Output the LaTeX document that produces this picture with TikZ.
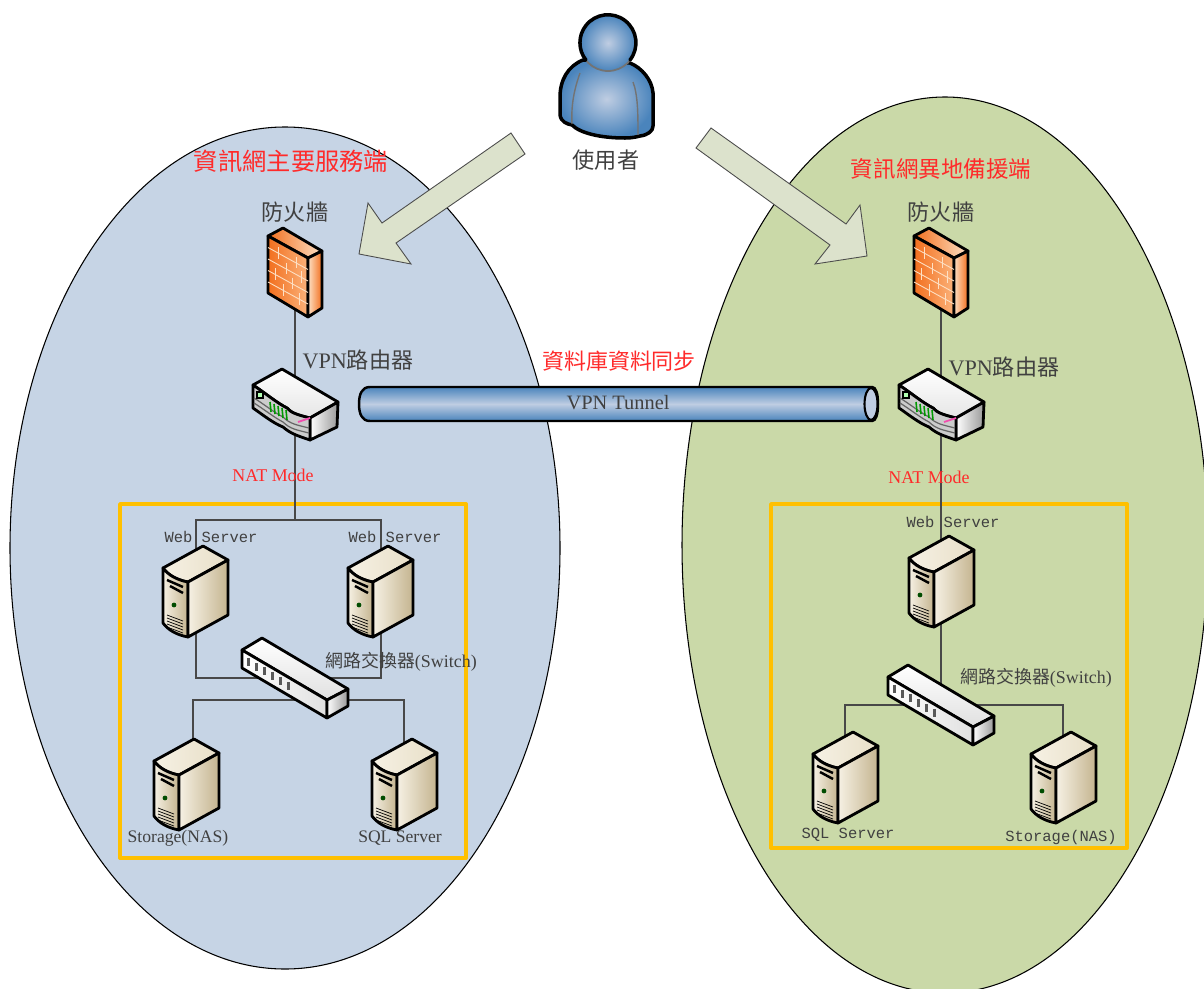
\documentclass[tikz,border=0pt]{standalone}
\usepackage{fontspec}
\setmainfont{Liberation Serif}
\setmonofont{Liberation Mono}
\newfontfamily\cjk{Noto Sans CJK TC}
\definecolor{sitea}{HTML}{C6D4E5}
\definecolor{siteb}{HTML}{CAD9A8}
\definecolor{boxline}{HTML}{FFC000}
\definecolor{linkgray}{HTML}{484848}
\definecolor{labelgray}{HTML}{404040}
\definecolor{labelred}{HTML}{FF2A2A}
\definecolor{arrowfill}{HTML}{DCE2CC}
\definecolor{steel}{HTML}{4A84BC}
\definecolor{steellight}{HTML}{BFCDE2}
\definecolor{creama}{HTML}{F6F1E4}
\definecolor{creamb}{HTML}{E8DFC8}
\definecolor{creamc}{HTML}{C4B48F}
\definecolor{bricka}{HTML}{F26F1E}
\definecolor{brickb}{HTML}{FBB27A}
\definecolor{brickc}{HTML}{FDE0C4}
\tikzset{
	point/.style={inner sep=0pt,minimum size=0pt},
	link/.style={linkgray,line width=0.5pt},
	site/.style={draw=black,line width=0.3pt},
	zone/.style={draw=boxline,line width=1.1pt,line join=round},
	bigarrow/.style={draw=black!70,line width=0.25pt,fill=arrowfill},
	outline/.style={draw=black,line width=0.8pt,line join=round},
	lab/.style={labelgray,inner sep=0pt},
	redlab/.style={labelred,inner sep=0pt},
	pics/server/.style={code={
		\shadedraw[outline,left color=creama,right color=creamb] (-32,-23) -- (8,-45) -- (33,-31) -- (-7,-9) .. controls (-18,-11) and (-27,-16) .. cycle;
		\shadedraw[outline,left color=creama,right color=creamc] (-32,-23) .. controls (-27,-16) and (-18,-11) .. (-7,-9) -- (-7,46) .. controls (-18,44) and (-27,39) .. (-32,32) -- cycle;
		\shadedraw[outline,left color=creama,right color=creamc] (-7,-9) -- (33,-31) -- (33,24) -- (-7,46) -- cycle;
		\draw[line width=0.7pt] (-28,-11) -- (-12,-4);
		\draw[line width=0.7pt] (-25,-5) -- (-12,2);
		\fill[black!70!green] (-21,14) circle (2.4);
		\foreach \v in {24,27,30,33,36}
			\draw[line width=0.2pt] (-28,\v) -- (-12,\v+6);
	}},
	pics/firewall/.style={code={
		\shadedraw[outline,left color=bricka,right color=brickc] (-27,-36) -- (-12,-44) -- (27,-21) -- (13,-14) -- cycle;
		\shadedraw[outline,left color=bricka,right color=brickb] (-27,-36) -- (13,-14) -- (13,45) -- (-27,21) -- cycle;
		\shadedraw[outline,left color=brickc,right color=bricka] (13,-14) -- (27,-21) -- (27,36) -- (13,45) -- cycle;
		\foreach \r in {1,...,4}
			\draw[brickc,line width=0.25pt] (-27,-36+\r*11.5) -- (13,-14+\r*11.5);
		\foreach \x/\r in {-17/0,1/0,-9/1,6/1,-20/2,-3/2,-12/3,4/3}
			\draw[brickc,line width=0.25pt] (\x,{-30.5+0.55*(\x+27)+\r*11.5}) -- ++(0,11.5);
	}},
	pics/router/.style={code={
		\shadedraw[outline,top color=white,bottom color=black!10] (-42,-20) -- (-13,-36) -- (43,-3) -- (15,13) .. controls (3,10) and (-4,8) .. (-8,3) .. controls (-18,-2) and (-30,-12) .. cycle;
		\shadedraw[outline,left color=white,right color=black!40] (15,13) -- (43,-3) -- (42,22) -- (15,35) -- cycle;
		\fill[black!20,draw=black,line width=0.8pt,line join=round] (-42,-20) .. controls (-30,-12) and (-18,-2) .. (-8,3) .. controls (-4,8) and (3,10) .. (15,13) -- (15,35) .. controls (0,30) and (-5,28) .. (-12,22) .. controls (-22,18) and (-32,10) .. (-42,3) -- cycle;
		\draw[black!60,line width=0.35pt] (-41,-7) .. controls (-30,0) and (-20,8) .. (-12,12) .. controls (-5,19) and (2,20) .. (14,23);
		\draw[black!60,line width=0.35pt] (-41,-2) .. controls (-30,5) and (-20,13) .. (-12,17) .. controls (-5,24) and (2,25) .. (14,28);
		\fill[white!70!green,draw=black,line width=0.4pt] (-38,-13) rectangle (-32,-7);
		\foreach \x in {-25,-21,...,-9}
			\draw[green!60!black,line width=0.45pt] (\x,{-3+0.5*(\x+25)}) -- ++(1,10);
		\draw[magenta!70!white,line width=0.5pt] (3,17) -- (15,13);
	}},
	pics/switch/.style={code={
		\shadedraw[outline,top color=white,bottom color=black!12] (-53,-28) -- (-33,-40) -- (53,11) -- (32,22) -- cycle;
		\shadedraw[outline,left color=white,right color=black!12] (-53,-28) -- (32,22) -- (32,40) -- (-53,-10) -- cycle;
		\shadedraw[outline,left color=white,right color=black!40] (32,22) -- (53,11) -- (53,28) -- (32,40) -- cycle;
		\foreach \x in {-48,-40,...,-8}
			\fill[black!65] (\x,{-20+0.59*(\x+48)}) rectangle ++(2.5,8);
	}},
	pics/person/.style={code={
		\shadedraw[outline,line width=1pt,inner color=steellight,outer color=steel]
			(583,60) .. controls (568,66) and (560,80) .. (560,97) -- (560,115) .. controls (561,122) and (567,124) .. (572,125)
			.. controls (580,133) and (600,138) .. (625,138) .. controls (632,138) and (636,137) .. (640,136)
			.. controls (648,135) and (653,131) .. (653,126) -- (653,93) .. controls (652,80) and (642,68) .. (630,63) -- cycle;
		\shade[inner color=steellight,outer color=steel] (608,43) circle (28);
		\draw[black!55,line width=0.5pt] (608,43) circle (28);
		\draw[black,line width=1pt,line cap=round] (630,60) arc (38:-218:28);
		\draw[black!55,line width=0.4pt] (580,73) .. controls (574,90) and (571,105) .. (572,124);
		\draw[black!55,line width=0.4pt] (633,82) .. controls (638,95) and (638,115) .. (638,135);
	}},
}
\begin{document}
\begin{tikzpicture}[x=0.01cm,y=-0.01cm,font=\rmfamily]

	\clip (0,0) rectangle (1204,988);
	\fill[white] (0,0) rectangle (1204,988);

	% two sites
	\draw [site,fill=sitea] (285,548) ellipse (275 and 421);
	\draw [site,fill=siteb] (945,545) ellipse (263 and 448);

	% server zones
	\draw [zone] (120,504) rectangle (466,858);
	\draw [zone] (771,504) rectangle (1127,848);

	% anchors of the left site
	\node [point] (fw1) at (295,272) {};
	\node [point] (router1) at (295,405) {};
	\coordinate (lan1) at (295,520);
	\node [point] (web1) at (196,591) {};
	\node [point] (web2) at (381,591) {};
	\node [point] (sw1) at (295,678) {};
	\coordinate (swb1) at (295,700);
	\node [point] (storage1) at (193,790) {};
	\node [point] (sql1) at (404,790) {};

	% anchors of the right site
	\node [point] (fw2) at (941,272) {};
	\node [point] (router2) at (941,405) {};
	\node [point] (web3) at (941,581) {};
	\node [point] (sw2) at (941,705) {};
	\node [point] (sql2) at (845,777) {};
	\node [point] (storage2) at (1063,777) {};

	% left links
	\draw [link] (fw1) -- (router1);
	\draw [link] (router1) -- (lan1);
	\draw [link] (web1) |- (lan1) -| (web2);
	\draw [link] (web1) |- (sw1) -| (web2);
	\draw [link] (storage1) |- (swb1) -| (sql1);

	% right links
	\draw [link] (fw2) -- (router2) -- (web3) -- (sw2);
	\draw [link] (sql2) |- (sw2) -| (storage2);

	% devices
	\pic at (fw1) {firewall};
	\pic at (fw2) {firewall};
	\pic at (router1) {router};
	\pic at (router2) {router};
	\pic at (195,591) {server};
	\pic at (380,591) {server};
	\pic at (186,784) {server};
	\pic at (404,784) {server};
	\pic at (941,581) {server};
	\pic at (845,777) {server};
	\pic at (1063,777) {server};
	\pic at (sw1) {switch};
	\pic at (sw2) {switch};
	\pic at (0,0) {person};

	% block arrows
	\draw [bigarrow] (511,133) -- (525,154) -- (396,243) -- (411,264) -- (359,254) -- (368,203) -- (382,223) -- cycle;
	\draw [bigarrow] (711,128) -- (696,148) -- (830,245) -- (815,264) -- (867,256) -- (860,205) -- (846,224) -- cycle;

	% tunnel
	\shadedraw [draw=black,line width=0.7pt,top color=steel,bottom color=steel,middle color=steellight]
		(872,387) -- (370,387) .. controls (362,387) and (359,394) .. (359,404) .. controls (359,414) and (362,421) .. (370,421) -- (872,421) .. controls (876,421) and (878,414) .. (878,404) .. controls (878,394) and (876,387) .. cycle;
	\draw [draw=black,line width=0.6pt,fill=steellight] (871,404) ellipse (6.5 and 16);
	\node (tunnel) [lab,font=\fontsize{5.8}{7}\selectfont] at (618,403) {VPN Tunnel};

	% labels
	\node (user) [lab,font=\fontsize{6.3}{7}\selectfont\cjk] at (606,160) {使用者};
	\node (title1) [redlab,font=\fontsize{6.9}{8}\selectfont\cjk] at (291,161) {資訊網主要服務端};
	\node (title2) [redlab,font=\fontsize{6.4}{8}\selectfont\cjk] at (941,169) {資訊網異地備援端};
	\node (sync) [redlab,font=\fontsize{6.25}{8}\selectfont\cjk] at (619,361) {資料庫資料同步};
	\node (fwlab1) [lab,font=\fontsize{6.3}{7}\selectfont\cjk] at (295,212) {防火牆};
	\node (fwlab2) [lab,font=\fontsize{6.3}{7}\selectfont\cjk] at (941,212) {防火牆};
	\node (vpn1) [lab,font=\fontsize{6.3}{7}\selectfont] at (358,360) {VPN{\cjk 路由器}};
	\node (vpn2) [lab,font=\fontsize{6.3}{7}\selectfont] at (1004,367) {VPN{\cjk 路由器}};
	\node (nat1) [redlab,font=\fontsize{5.1}{6}\selectfont] at (273,475) {NAT Mode};
	\node (nat2) [redlab,font=\fontsize{5.1}{6}\selectfont] at (929,477) {NAT Mode};
	\node (weblab1) [lab,font=\fontsize{4.4}{6}\selectfont\ttfamily] at (211,537) {Web Server};
	\node (weblab2) [lab,font=\fontsize{4.4}{6}\selectfont\ttfamily] at (395,537) {Web Server};
	\node (weblab3) [lab,font=\fontsize{4.4}{6}\selectfont\ttfamily] at (953,522) {Web Server};
	\node (swlab1) [lab,font=\fontsize{5.1}{6}\selectfont] at (401,662) {{\cjk 網路交換器}(Switch)};
	\node (swlab2) [lab,font=\fontsize{5.1}{6}\selectfont] at (1036,678) {{\cjk 網路交換器}(Switch)};
	\node (stlab1) [lab,font=\fontsize{5}{6}\selectfont] at (178,838) {Storage(NAS)};
	\node (sqllab1) [lab,font=\fontsize{5}{6}\selectfont] at (400,838) {SQL Server};
	\node (sqllab2) [lab,font=\fontsize{4.4}{6}\selectfont\ttfamily] at (848,835) {SQL Server};
	\node (stlab2) [lab,font=\fontsize{4.4}{6}\selectfont\ttfamily] at (1061,837) {Storage(NAS)};

\end{tikzpicture}
\end{document}
